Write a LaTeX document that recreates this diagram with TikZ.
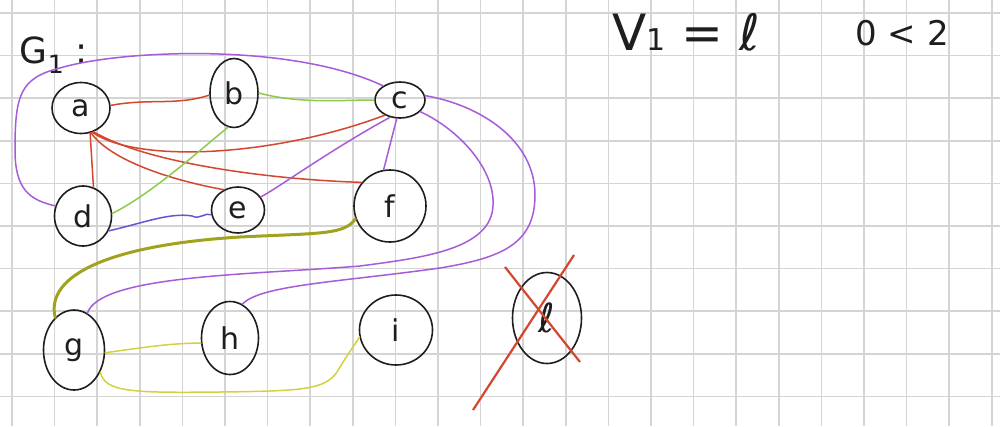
\documentclass[tikz,border=0pt]{standalone}
\usepackage{fontspec}
\setmainfont{DejaVu Sans}
\usetikzlibrary{shapes.geometric}

\definecolor{ink}{HTML}{1E1E1E}
\definecolor{gridc}{HTML}{D4D4D4}
\definecolor{redc}{HTML}{D4472F}
\definecolor{greenc}{HTML}{8DCB4E}
\definecolor{purplec}{HTML}{A65CD8}
\definecolor{bluec}{HTML}{6C52D2}
\definecolor{olivec}{HTML}{A1A31E}
\definecolor{yellowc}{HTML}{D3D23E}

\begin{document}
\begin{tikzpicture}[x=1pt, y=-1pt,
  vtx/.style args={#1/#2}{ellipse, draw=ink, line width=1.6pt, inner sep=0pt, text=ink,
              minimum width=#1pt, minimum height=#2pt, font=\fontsize{30}{30}\selectfont},
  edg/.style={draw=#1, line width=1.5pt, line cap=round},
  lbl/.style={text=ink, inner sep=0pt}
]
\useasboundingbox (0,0) rectangle (1000,426);
\fill[white] (0,0) rectangle (1000,426);
\foreach \k in {0,...,23}
  \draw[gridc, line width=1.5pt] ({12+42.6*\k},0) -- ({12+42.6*\k},426);
\foreach \k in {0,...,9}
  \draw[gridc, line width=1.5pt] (0,{13+42.6*\k}) -- (1000,{13+42.6*\k});

\node[lbl, font=\fontsize{36}{36}\selectfont] (gone) at (54,55) {G\textsubscript{1} :};
\node[lbl, font=\fontsize{50}{50}\selectfont] (vone) at (686,32)
  {V{\fontsize{30}{30}\selectfont 1} = ℓ};
\node[lbl, font=\fontsize{34}{34}\selectfont] (cond) at (902,33) {0 < 2};

\node[vtx=58/51] (a) at (81,108) {a};
\node[vtx=48/69] (b) at (234,93)  {b};
\node[vtx=50/36] (c) at (400,100) {c};
\node[vtx=57/60] (d) at (83,216)  {d};
\node[vtx=53/46] (e) at (238,210) {e};
\node[vtx=72/72] (f) at (390,206) {f};
\node[vtx=61/80] (g) at (74,350)  {g};
\node[vtx=57/73] (h) at (230,338) {h};
\node[vtx=73/70] (i) at (396,330) {i};
\node[vtx=69/91, font=\fontsize{40}{40}\selectfont] (l) at (547,318) {ℓ};

\draw[edg=redc] (a.5) .. controls (150,98) and (175,106) .. (b.185);
\draw[edg=redc] (a.-65) .. controls (140,165) and (280,155) .. (c.-135);
\draw[edg=redc] (a.-62) .. controls (150,165) and (280,180) .. (f.140);
\draw[edg=redc] (a.-68) .. controls (110,160) and (170,180) .. (e.125);
\draw[edg=redc] (a.-70) -- (d.70);

\draw[edg=greenc] (b.east) .. controls (300,104) and (340,100) .. (c.west);
\draw[edg=greenc] (b.-100) .. controls (200,150) and (150,195) .. (d.5);

\draw[edg=bluec] (d.-30) .. controls (140,224) and (170,212) .. (192,216)
  .. controls (200,220) and (205,212) .. (e.190);
\draw[edg=purplec] (e.30) .. controls (275,190) and (330,150) .. (c.-120);
\draw[edg=purplec] (c.-100) -- (f.100);
\draw[edg=purplec] (d.160) .. controls (30,200) and (15,190) .. (15,150)
  .. controls (15,95) and (20,78) .. (60,68)
  .. controls (120,50) and (290,42) .. (c.140);
\draw[edg=purplec] (c.-30) .. controls (460,130) and (495,170) .. (493,205)
  .. controls (492,250) and (420,258) .. (360,266)
  .. controls (250,275) and (100,275) .. (g.70);
\draw[edg=purplec] (c.10) .. controls (480,105) and (535,140) .. (535,195)
  .. controls (535,245) and (500,258) .. (440,268)
  .. controls (340,282) and (260,285) .. (h.70);

\draw[edg=olivec, line width=3pt] (f.200) .. controls (345,235) and (320,233) .. (240,237)
  .. controls (110,245) and (45,275) .. (g.120);
\draw[edg=yellowc] (g.-5) .. controls (140,348) and (170,343) .. (h.190);
\draw[edg=yellowc] (g.-40) .. controls (105,392) and (130,393) .. (220,392)
  .. controls (300,391) and (325,390) .. (337,372)
  .. controls (350,350) and (360,338) .. (i.190);

\draw[redc, line width=2.2pt] (505,267) -- (580,362);
\draw[redc, line width=2.2pt] (574,255) -- (473,410);
\end{tikzpicture}
\end{document}
